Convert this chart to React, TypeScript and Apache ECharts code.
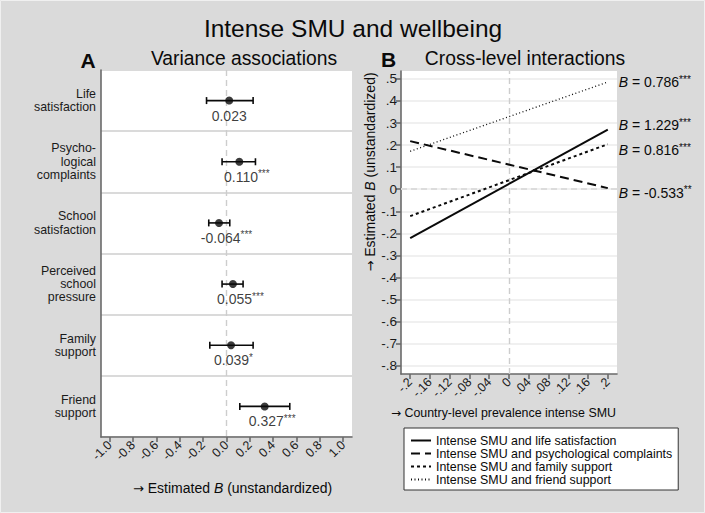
import { useEffect, useRef } from "react";
import * as echarts from "echarts";

const FONT = "'Liberation Sans', Arial, Helvetica, sans-serif";
const INK = "#0a0a0a";

// Panel A: variance associations
const categoriesA = [
  "Life\nsatisfaction",
  "Psycho-\nlogical\ncomplaints",
  "School\nsatisfaction",
  "Perceived\nschool\npressure",
  "Family\nsupport",
  "Friend\nsupport",
];
const estimatesA = [0.023, 0.11, -0.064, 0.055, 0.039, 0.327];
const ciLowA = [-0.171, -0.038, -0.152, -0.038, -0.143, 0.114];
const ciHighA = [0.228, 0.248, 0.028, 0.142, 0.228, 0.542];
const starsA = ["", "***", "***", "***", "*", "***"];
const ticksA = [-1, -0.8, -0.6, -0.4, -0.2, 0, 0.2, 0.4, 0.6, 0.8, 1];

// Panel B: cross-level interactions
const seriesNamesB = [
  "Intense SMU and life satisfaction",
  "Intense SMU and psychological complaints",
  "Intense SMU and family support",
  "Intense SMU and friend support",
];
const prevalenceB = [-0.2, 0.2];
const lifeSatB = [-0.222, 0.27];
const psychB = [0.218, 0.005];
const familyB = [-0.122, 0.204];
const friendB = [0.172, 0.486];
const slopesB = ["1.229", "-0.533", "0.816", "0.786"];
const slopeStarsB = ["***", "**", "***", "***"];
const xTicksB = [-0.2, -0.16, -0.12, -0.08, -0.04, 0, 0.04, 0.08, 0.12, 0.16, 0.2];
const yTicksB = [-0.8, -0.7, -0.6, -0.5, -0.4, -0.3, -0.2, -0.1, 0, 0.1, 0.2, 0.3, 0.4, 0.5];

const fmtB = (v: number, digits: number) => {
  if (Math.abs(v) < 1e-9) return "0";
  const s = parseFloat(Math.abs(v).toFixed(digits)).toString().replace(/^0\./, ".");
  return (v < 0 ? "-" : "") + s;
};

export default function App() {
  const ref = useRef<HTMLDivElement>(null);
  useEffect(() => {
    if (!ref.current) return;
    const chart = echarts.init(ref.current, null, { renderer: "svg" });

    const axisLineStyle = { color: "#6a6a6a", width: 1.6 };
    const labelRich = {
      n: { fontSize: 14, fontFamily: FONT, color: INK, lineHeight: 16 },
      i: { fontSize: 14, fontFamily: FONT, color: INK, fontStyle: "italic", lineHeight: 16 },
      s: { fontSize: 10, fontFamily: FONT, color: INK, verticalAlign: "top", lineHeight: 16 },
    };
    const arrowRich = {
      a: { fontSize: 13, fontFamily: "'DejaVu Sans', sans-serif", fill: INK, color: INK },
      i: { fontStyle: "italic", fontSize: 14, fontFamily: FONT, fill: INK, color: INK },
    };
    const zeroDash = { color: "#cdcdcd", type: [6, 4], width: 1.4 };

    const lineDefs = [
      { data: lifeSatB, type: "solid", width: 2, dy: -4.5 },
      { data: psychB, type: [9, 5], width: 2, dy: 4.5 },
      { data: familyB, type: [3, 3], width: 2, dy: 5.8 },
      { data: friendB, type: [1, 2.5], width: 1.3, dy: 0 },
    ];

    const seriesB: any[] = lineDefs.map((d, k) => ({
      name: seriesNamesB[k],
      type: "line",
      xAxisIndex: 1,
      yAxisIndex: 1,
      symbol: "none",
      color: INK,
      z: 5,
      data: prevalenceB.map((x, i) => [x, d.data[i]]),
      itemStyle: { color: INK },
      lineStyle: { color: INK, width: d.width, type: d.type as any },
      endLabel: {
        show: true,
        distance: 11,
        offset: [0, d.dy],
        color: INK,
        formatter: () => `{i|B}{n| = ${slopesB[k]}}{s|${slopeStarsB[k]}}`,
        rich: labelRich,
      },
      ...(k === 0
        ? {
            markLine: {
              silent: true,
              symbol: "none",
              label: { show: false },
              z: 1,
              lineStyle: zeroDash,
              data: [
                { xAxis: 0, lineStyle: zeroDash },
                { yAxis: 0, lineStyle: { color: "#dcdcdc", type: [6, 4], width: 1.8 } },
              ],
            },
          }
        : {}),
    }));

    chart.setOption({
      animation: false,
      backgroundColor: "#dadada",
      color: [INK],
      textStyle: { fontFamily: FONT },
      grid: [
        { left: 101, top: 70, width: 251, height: 367, show: true, backgroundColor: "#ffffff", borderWidth: 0 },
        { left: 401, top: 71, width: 216, height: 303, show: true, backgroundColor: "#ffffff", borderWidth: 0 },
      ],
      xAxis: [
        {
          type: "value",
          gridIndex: 0,
          min: -1.075,
          max: 1.075,
          axisLine: { show: true, onZero: false, lineStyle: axisLineStyle },
          axisTick: { show: true, length: 5, lineStyle: axisLineStyle, customValues: ticksA },
          axisLabel: {
            customValues: ticksA,
            rotate: 45,
            margin: 6,
            fontSize: 12.5,
            color: "#1a1a1a",
            fontFamily: FONT,
            formatter: (v: number) => v.toFixed(1),
          },
          splitLine: { show: false },
        },
        {
          type: "value",
          gridIndex: 1,
          min: -0.2186,
          max: 0.2186,
          axisLine: { show: true, onZero: false, lineStyle: axisLineStyle },
          axisTick: { show: true, length: 5, lineStyle: axisLineStyle, customValues: xTicksB },
          axisLabel: {
            customValues: xTicksB,
            rotate: 45,
            margin: 6,
            fontSize: 12.5,
            color: "#1a1a1a",
            fontFamily: FONT,
            formatter: (v: number) => fmtB(v, 2),
          },
          splitLine: { show: false },
        },
      ],
      yAxis: [
        {
          type: "category",
          gridIndex: 0,
          inverse: true,
          data: categoriesA,
          axisLine: { show: true, onZero: false, lineStyle: axisLineStyle },
          axisTick: { show: false },
          axisLabel: {
            fontSize: 12.4,
            lineHeight: 13.4,
            color: "#1a1a1a",
            margin: 5,
            align: "right",
            fontFamily: FONT,
          },
          splitLine: { show: true, lineStyle: { color: "#dadada", width: 2 } },
        },
        {
          type: "value",
          gridIndex: 1,
          min: -0.838,
          max: 0.536,
          axisLine: { show: true, onZero: false, lineStyle: axisLineStyle },
          axisTick: { show: true, length: 5, lineStyle: axisLineStyle, customValues: yTicksB },
          axisLabel: {
            customValues: yTicksB,
            fontSize: 13.5,
            color: "#1a1a1a",
            margin: 4,
            fontFamily: FONT,
            formatter: (v: number) => fmtB(v, 1),
          },
          splitLine: { show: true, lineStyle: { color: "#ebebeb", width: 1.5 } },
        },
      ],
      legend: {
        data: seriesNamesB,
        orient: "vertical",
        left: 404,
        top: 428,
        itemWidth: 20,
        itemHeight: 13,
        itemGap: 0,
        padding: [6, 6, 4, 6],
        backgroundColor: "#ffffff",
        borderColor: "#333333",
        borderWidth: 1,
        borderRadius: 0,
        selectedMode: false,
        itemStyle: { color: "rgba(0,0,0,0)", borderWidth: 0, opacity: 0 },
        textStyle: { fontSize: 12.4, lineHeight: 13, color: INK, fontFamily: FONT },
      },
      series: [
        {
          type: "custom",
          xAxisIndex: 0,
          yAxisIndex: 0,
          z: 3,
          data: categoriesA.map((_, i) => [ciLowA[i], ciHighA[i], i]),
          encode: { x: [0, 1], y: 2 },
          renderItem: (_params: any, api: any) => {
            const lo = api.coord([api.value(0), api.value(2)]);
            const hi = api.coord([api.value(1), api.value(2)]);
            const h = 3.5;
            const st = { stroke: INK, lineWidth: 1.6 };
            return {
              type: "group",
              children: [
                { type: "line", shape: { x1: lo[0], y1: lo[1], x2: hi[0], y2: hi[1] }, style: st },
                { type: "line", shape: { x1: lo[0], y1: lo[1] - h, x2: lo[0], y2: lo[1] + h }, style: st },
                { type: "line", shape: { x1: hi[0], y1: hi[1] - h, x2: hi[0], y2: hi[1] + h }, style: st },
              ],
            };
          },
        },
        {
          type: "scatter",
          xAxisIndex: 0,
          yAxisIndex: 0,
          z: 4,
          symbol: "circle",
          symbolSize: 8,
          itemStyle: { color: INK },
          data: estimatesA.map((v, i) => ({
            value: [v, i],
            label: { offset: [starsA[i].length * 2.5, 0] },
          })),
          label: {
            show: true,
            position: "bottom",
            distance: 3,
            color: INK,
            formatter: (p: any) =>
              `{n|${estimatesA[p.dataIndex].toFixed(3)}}` +
              (starsA[p.dataIndex] ? `{s|${starsA[p.dataIndex]}}` : ""),
            rich: labelRich,
          },
          markLine: {
            silent: true,
            symbol: "none",
            label: { show: false },
            z: 1,
            lineStyle: zeroDash,
            data: [{ xAxis: 0 }],
          },
        },
        ...seriesB,
      ],
      graphic: [
        {
          type: "rect",
          silent: true,
          shape: { x: 0.5, y: 0.5, width: 704, height: 512 },
          style: { fill: "none", stroke: "#f0f0f0", lineWidth: 1 },
        },
        {
          type: "text",
          x: 353,
          y: 28,
          style: { text: "Intense SMU and wellbeing", font: `24.5px ${FONT}`, fill: INK, textAlign: "center", textVerticalAlign: "middle" },
        },
        {
          type: "text",
          x: 88,
          y: 60,
          style: { text: "A", font: `bold 21px ${FONT}`, fill: INK, textAlign: "center", textVerticalAlign: "middle" },
        },
        {
          type: "text",
          x: 244,
          y: 58,
          style: { text: "Variance associations", font: `19.3px ${FONT}`, fill: INK, textAlign: "center", textVerticalAlign: "middle" },
        },
        {
          type: "text",
          x: 388.5,
          y: 59,
          style: { text: "B", font: `bold 21px ${FONT}`, fill: INK, textAlign: "center", textVerticalAlign: "middle" },
        },
        {
          type: "text",
          x: 525,
          y: 58,
          style: { text: "Cross-level interactions", font: `19.3px ${FONT}`, fill: INK, textAlign: "center", textVerticalAlign: "middle" },
        },
        {
          type: "text",
          x: 133,
          y: 488,
          style: {
            text: "{a|→} Estimated {i|B} (unstandardized)",
            font: `14px ${FONT}`,
            fill: INK,
            textAlign: "left",
            textVerticalAlign: "middle",
            rich: arrowRich,
          },
        },
        {
          type: "text",
          x: 391,
          y: 413,
          style: {
            text: "{a|→} Country-level prevalence intense SMU",
            font: `12.4px ${FONT}`,
            fill: INK,
            textAlign: "left",
            textVerticalAlign: "middle",
            rich: { a: { fontSize: 12, fontFamily: "'DejaVu Sans', sans-serif", fill: INK } },
          },
        },
        {
          type: "text",
          x: 370,
          y: 172,
          rotation: Math.PI / 2,
          style: {
            text: "{a|→} Estimated {i|B} (unstandardized)",
            font: `14px ${FONT}`,
            fill: INK,
            textAlign: "center",
            textVerticalAlign: "middle",
            rich: arrowRich,
          },
        },
      ],
    });

    return () => chart.dispose();
  }, []);

  return (
    <div
      ref={ref}
      style={{ position: "absolute", left: 0, top: 0, width: 705, height: 513 }}
    />
  );
}
